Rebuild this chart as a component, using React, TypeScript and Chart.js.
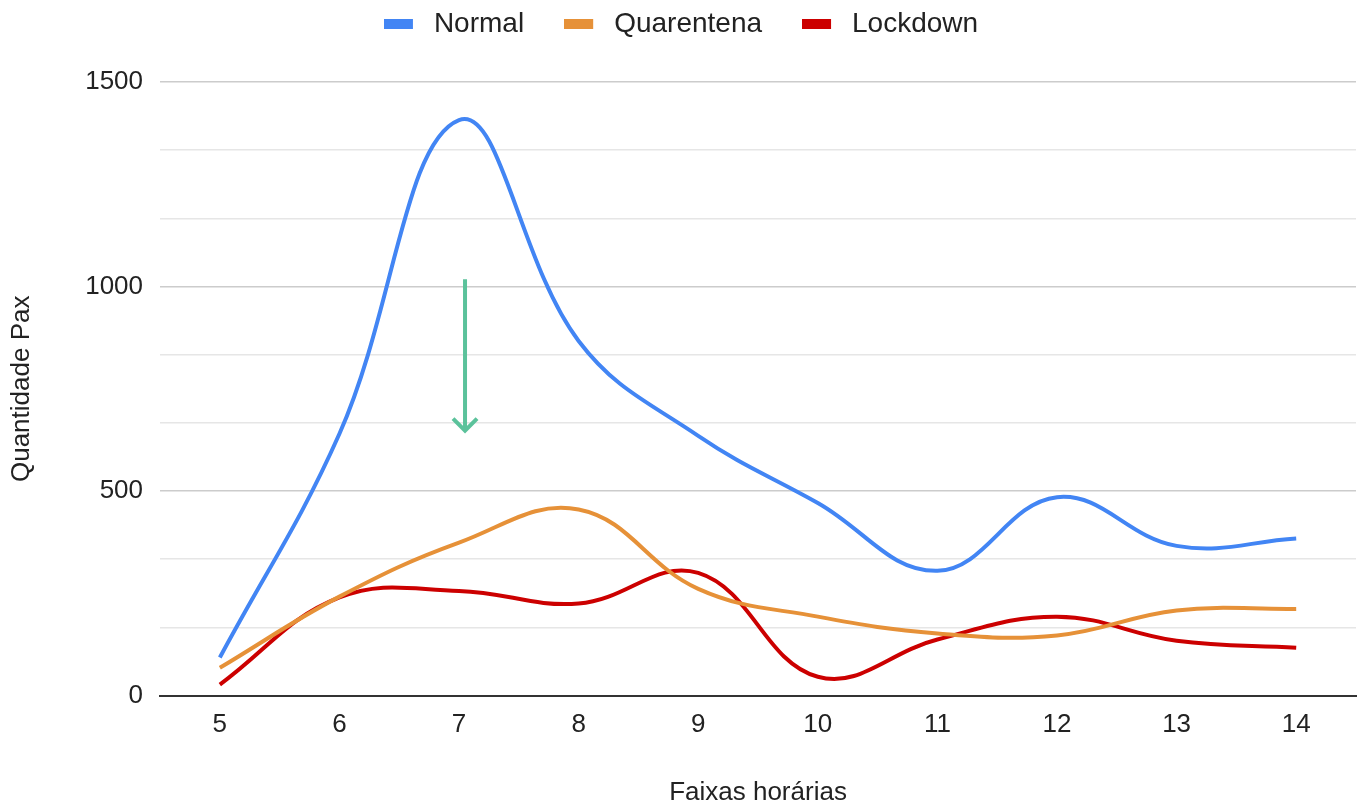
import React, { useEffect, useRef } from "react";
import { Chart, registerables } from "chart.js";

Chart.register(...registerables);

const categories = ["5", "6", "7", "8", "9", "10", "11", "12", "13", "14"];
const normalValues = [93, 640, 1407, 867, 635, 471, 305, 485, 366, 384];
const quarentenaValues = [68, 242, 374, 455, 261, 193, 152, 147, 208, 212];
const lockdownValues = [27, 240, 256, 225, 300, 46, 137, 193, 134, 117];
const seriesNames = ["Normal", "Quarentena", "Lockdown"];
const seriesColors = ["#4285F4", "#E69138", "#CC0000"];
const arrowCategory = "7";
const arrowFrom = 1018;
const arrowTo = 643;
const xTitle = "Faixas horárias";
const yTitle = "Quantidade Pax";

const FONT = "'Liberation Sans', Arial, sans-serif";

function legendSwatch(color: string) {
  const c = document.createElement("canvas");
  c.width = 36;
  c.height = 10;
  const g = c.getContext("2d");
  if (g) {
    g.fillStyle = color;
    g.fillRect(0, 0, 29, 10);
  }
  return c;
}

const arrowPlugin = {
  id: "arrowPlugin",
  afterDatasetsDraw(chart: any) {
    const { ctx, scales } = chart;
    const x = scales.x.getPixelForValue(categories.indexOf(arrowCategory)) + 6;
    const y1 = scales.y.getPixelForValue(arrowFrom);
    const y2 = scales.y.getPixelForValue(arrowTo);
    ctx.save();
    ctx.strokeStyle = "#5BC29B";
    ctx.lineWidth = 4;
    ctx.lineCap = "butt";
    ctx.beginPath();
    ctx.moveTo(x, y1);
    ctx.lineTo(x, y2 - 2);
    ctx.stroke();
    ctx.lineJoin = "miter";
    ctx.beginPath();
    ctx.moveTo(x - 12, y2 - 14);
    ctx.lineTo(x, y2 - 2);
    ctx.lineTo(x + 12, y2 - 14);
    ctx.stroke();
    ctx.restore();
  },
};

export default function App() {
  const ref = useRef<HTMLCanvasElement>(null);
  useEffect(() => {
    if (!ref.current) return;
    const values = [normalValues, quarentenaValues, lockdownValues];
    const chart = new Chart(ref.current, {
      type: "line",
      data: {
        labels: categories,
        datasets: seriesNames.map((name, i) => ({
          label: name,
          data: values[i],
          borderColor: seriesColors[i],
          backgroundColor: seriesColors[i],
          borderWidth: 4,
          pointRadius: 0,
          pointStyle: legendSwatch(seriesColors[i]),
          tension: 0.4,
          fill: false,
        })),
      },
      options: {
        animation: false,
        responsive: true,
        maintainAspectRatio: false,
        layout: { padding: { left: 6, right: 4, top: -30, bottom: 0 } },
        plugins: {
          legend: {
            position: "top",
            weight: 3000,
            labels: {
              usePointStyle: true,
              pointStyleWidth: 36,
              boxHeight: 10,
              padding: 40,
              color: "#222",
              font: { family: FONT, size: 28 },
            },
          },
          title: {
            display: true,
            text: "",
            weight: 500,
            font: { size: 10 },
            padding: { top: 0, bottom: 22 },
          },
          tooltip: { enabled: false },
        },
        scales: {
          x: {
            offset: true,
            grid: { display: false, drawTicks: false },
            border: { display: true, color: "#333", width: 2 },
            ticks: { color: "#222", font: { family: FONT, size: 26 }, padding: 14 },
            title: {
              display: true,
              text: xTitle,
              color: "#222",
              font: { family: FONT, size: 26 },
              padding: { top: 22, bottom: 0 },
            },
          },
          y: {
            min: 0,
            max: 1500,
            border: { display: false },
            grid: {
              drawTicks: false,
              lineWidth: (c: any) => (c.tick && c.tick.value === 0 ? 2 : 1.5),
              color: (c: any) => {
                const v = c.tick ? c.tick.value : 1;
                if (Math.abs(v) < 1e-6) return "#333";
                if (Math.abs(v % 500) < 1e-6 || Math.abs((v % 500) - 500) < 1e-6) return "#cccccc";
                return "#e6e6e6";
              },
            },
            ticks: {
              stepSize: 500 / 3,
              color: "#222",
              padding: 17,
              font: { family: FONT, size: 26 },
              callback: (v: any) => {
                const n = Math.round(Number(v));
                return Math.abs(Number(v) - n) < 1e-6 && n % 500 === 0 ? String(n) : "";
              },
            },
            title: {
              display: true,
              text: yTitle,
              color: "#222",
              font: { family: FONT, size: 26 },
              padding: { top: 0, bottom: 31 },
            },
          },
        },
      },
      plugins: [arrowPlugin],
    });
    return () => chart.destroy();
  }, []);
  return (
    <div style={{ position: "fixed", left: 0, top: 0, width: 1360, height: 808, background: "#fff" }}>
      <canvas ref={ref} />
    </div>
  );
}
